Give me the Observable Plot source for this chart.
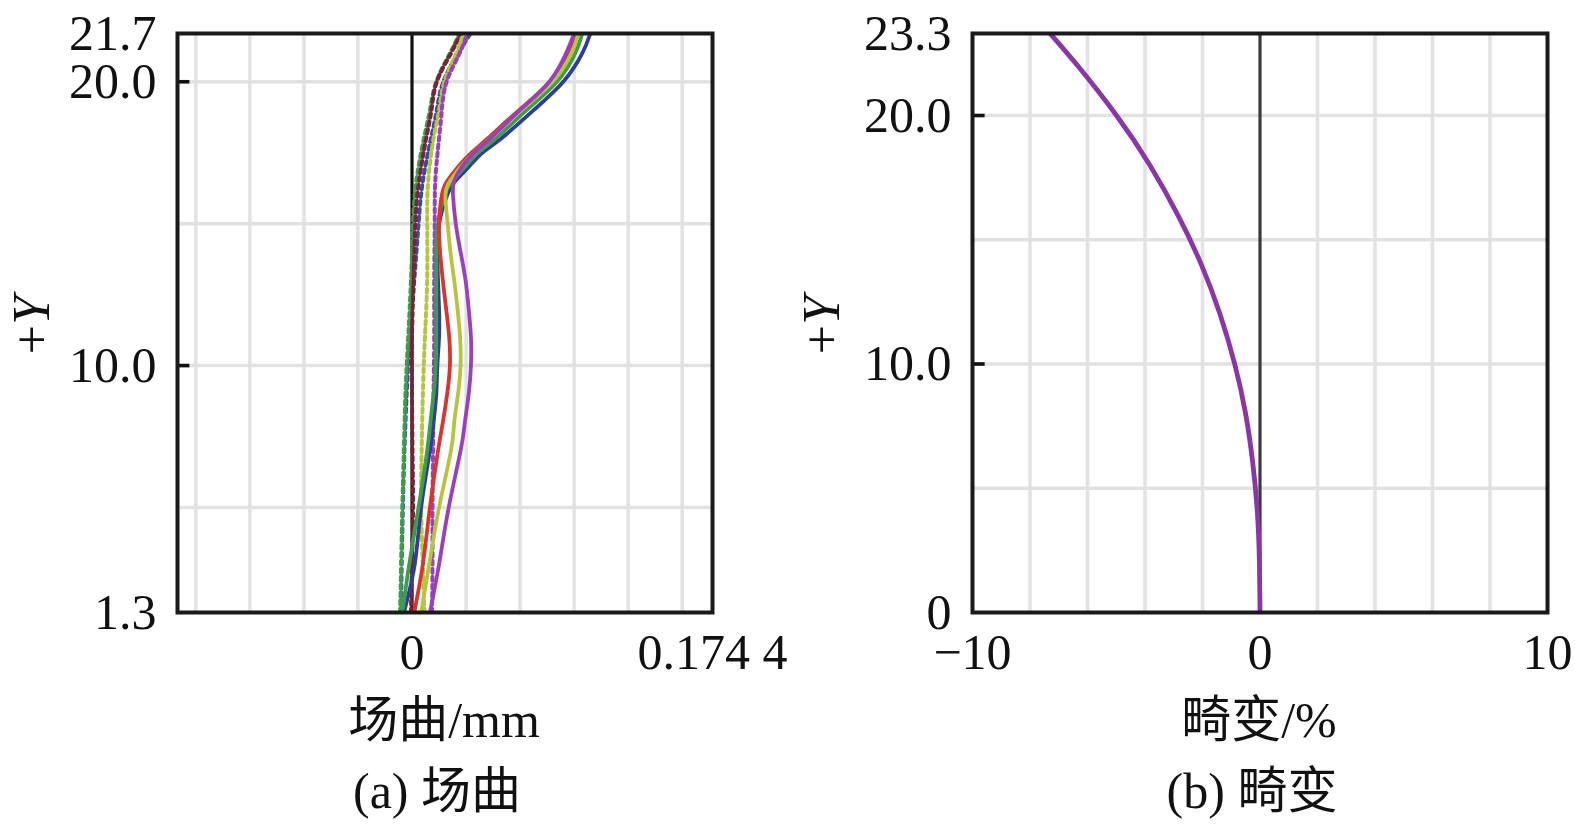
<!DOCTYPE html>
<html>
<head>
<meta charset="utf-8">
<script src="https://cdn.jsdelivr.net/npm/d3@7"></script>
<script src="https://cdn.jsdelivr.net/npm/@observablehq/plot@0.6"></script>
<style>
  body { margin: 0; background: #fff; }
  #root { position: relative; width: 1575px; height: 834px; overflow: hidden; background: #fff; }
  .panel { position: absolute; top: 0; }
  .ylab { position: absolute; transform: translate(-50%, -50%) rotate(-90deg); font: 52px "Liberation Serif", serif; white-space: nowrap; line-height: 1; color: #111; }
  .txt { position: absolute; transform: translate(-50%, -50%); font-size: 50px; font-family: "Liberation Serif", "Noto Sans CJK SC", serif; white-space: nowrap; line-height: 1; color: #111; }
</style>
</head>
<body>
<div id="root">
  <div id="pa" class="panel" style="left:0px"></div>
  <div id="pb" class="panel" style="left:790px"></div>
  <div class="ylab" style="left:32px; top:325px">+<i>Y</i></div>
  <div class="ylab" style="left:822px; top:325px">+<i>Y</i></div>
  <div class="txt" style="left:444px; top:720px">场曲/mm</div>
  <div class="txt" style="left:1259px; top:720px">畸变/%</div>
  <div class="txt" style="left:437px; top:791px">(a) 场曲</div>
  <div class="txt" style="left:1252px; top:791px">(b) 畸变</div>
</div>
<script>
// ---------- Panel (a): field curvature (mm) ----------
const fieldYT = [1.3, 3, 5, 7, 8, 9, 10, 11, 12, 13, 14, 15, 16, 16.5, 17, 17.5, 18, 19, 20, 21, 21.7];
const tanBlue   = [-0.0047, 0.0016, 0.0053, 0.0104, 0.0125, 0.0141, 0.0147, 0.0157, 0.0157, 0.0151, 0.0147, 0.0157, 0.0204, 0.0251, 0.0329, 0.0408, 0.0518, 0.0706, 0.0878, 0.0988, 0.1035];
const tanGreen  = [-0.0056, -0.0016, 0.0038, 0.0088, 0.0107, 0.0125, 0.0138, 0.0141, 0.0141, 0.0141, 0.0141, 0.0151, 0.0188, 0.0235, 0.0307, 0.0383, 0.0486, 0.0665, 0.0841, 0.0947, 0.0988];
const tanRed    = [0.0013, 0.0063, 0.0104, 0.0151, 0.0179, 0.0204, 0.0220, 0.0216, 0.0198, 0.0179, 0.0163, 0.0157, 0.0173, 0.0204, 0.0267, 0.0345, 0.0439, 0.0621, 0.0800, 0.0903, 0.0947];
const tanYellow = [0.0053, 0.0100, 0.0157, 0.0226, 0.0245, 0.0267, 0.0282, 0.0279, 0.0264, 0.0245, 0.0223, 0.0207, 0.0194, 0.0220, 0.0282, 0.0361, 0.0455, 0.0634, 0.0816, 0.0925, 0.0966];
const tanPurple = [0.0104, 0.0157, 0.0213, 0.0282, 0.0307, 0.0329, 0.0342, 0.0342, 0.0329, 0.0311, 0.0282, 0.0254, 0.0238, 0.0245, 0.0289, 0.0361, 0.0455, 0.0627, 0.0797, 0.0894, 0.0941];

const fieldYS = [1.3, 3, 5, 7, 9, 11, 13, 15, 16.5, 18, 19, 20, 21, 21.7];
const sagBlue   = [-0.0063, -0.0060, -0.0053, -0.0044, -0.0031, -0.0013, 0.0013, 0.0038, 0.0063, 0.0110, 0.0144, 0.0182, 0.0267, 0.0339];
const sagGreen  = [-0.0069, -0.0063, -0.0056, -0.0047, -0.0038, -0.0022, -0.0006, 0.0006, 0.0025, 0.0069, 0.0104, 0.0141, 0.0220, 0.0276];
const sagRed    = [-0.0006, 0.0000, 0.0006, 0.0003, 0.0000, 0.0000, 0.0009, 0.0019, 0.0041, 0.0082, 0.0113, 0.0144, 0.0226, 0.0282];
const sagYellow = [0.0072, 0.0063, 0.0053, 0.0056, 0.0063, 0.0075, 0.0088, 0.0088, 0.0094, 0.0125, 0.0157, 0.0188, 0.0257, 0.0298];
const sagPurple = [0.0116, 0.0119, 0.0119, 0.0122, 0.0125, 0.0129, 0.0129, 0.0132, 0.0135, 0.0157, 0.0173, 0.0201, 0.0276, 0.0320];

const xDomainA = [-0.1361, 0.1744];
const yDomainA = [1.3, 21.7];
const xTicksA = [0, 0.1744];
const xTickLabelsA = ["0", "0.174 4"];
const yTicksA = [1.3, 10, 20, 21.7];
const yTickLabelsA = ["1.3", "10.0", "20.0", "21.7"];
const gridXA = [-0.1255, -0.0941, -0.0627, -0.0314, 0.0314, 0.0627, 0.0941, 0.1255, 0.1568];
const gridYA = [5, 10, 15, 20];
const innerTicksA = [10, 20];

// ---------- Panel (b): distortion (%) ----------
const distY = [0, 2, 4, 6, 8, 10, 12, 14, 16, 18, 20, 22, 23.3];
const distX = [0, -0.02, -0.09, -0.25, -0.5, -0.88, -1.39, -2.04, -2.86, -3.83, -4.99, -6.34, -7.3];
const xDomainB = [-10, 10];
const yDomainB = [0, 23.3];
const xTicksB = [-10, 0, 10];
const xTickLabelsB = ["\u221210", "0", "10"];
const yTicksB = [0, 10, 20, 23.3];
const yTickLabelsB = ["0", "10.0", "20.0", "23.3"];
const gridXB = [-8, -6, -4, -2, 2, 4, 6, 8];
const gridYB = [5, 10, 15, 20];
const innerTicksB = [10, 20];

// ---------- build ----------
const FONT = "Liberation Serif";
const series = [
  {x: tanBlue,   y: fieldYT, color: "#2f3c9a", dash: null},
  {x: tanGreen,  y: fieldYT, color: "#3c9e48", dash: null},
  {x: tanRed,    y: fieldYT, color: "#d8362c", dash: null},
  {x: tanYellow, y: fieldYT, color: "#b5c63c", dash: null},
  {x: tanPurple, y: fieldYT, color: "#9a3fbe", dash: null},
  {x: sagBlue,   y: fieldYS, color: "#3a4aa8", dash: "4,4"},
  {x: sagGreen,  y: fieldYS, color: "#3c9e48", dash: "4,4"},
  {x: sagRed,    y: fieldYS, color: "#7a2238", dash: "4,4"},
  {x: sagYellow, y: fieldYS, color: "#b5c63c", dash: "4,4"},
  {x: sagPurple, y: fieldYS, color: "#9a3fbe", dash: "4,4"}
];
const drawOrder = [5, 6, 7, 8, 9, 0, 1, 2, 3, 4];

function lineMark(s) {
  const rows = s.x.map((v, i) => ({x: v, y: s.y[i]}));
  const opts = {x: "x", y: "y", stroke: s.color, strokeWidth: s.dash ? 4 : 3.8, curve: "natural"};
  if (s.dash) opts.strokeDasharray = s.dash;
  return Plot.line(rows, opts);
}

const commonStyle = {fontFamily: FONT, fontSize: "50px", color: "#111", background: "transparent", overflow: "visible"};
const GRID = "#e2e2e2";

const plotA = Plot.plot({
  width: 780, height: 690,
  marginLeft: 177, marginRight: 68, marginTop: 33, marginBottom: 78,
  x: {domain: xDomainA},
  y: {domain: yDomainA},
  clip: true,
  style: commonStyle,
  marks: [
    Plot.ruleX(gridXA, {stroke: GRID, strokeWidth: 3.5}),
    Plot.ruleY(gridYA, {stroke: GRID, strokeWidth: 3.5}),
    Plot.ruleX([0], {stroke: "#111", strokeWidth: 3.2}),
    ...drawOrder.map(i => lineMark(series[i])),
    Plot.ruleY(innerTicksA, {x1: xDomainA[0], x2: xDomainA[0] + 0.0072, stroke: "#111", strokeWidth: 3.6}),
    Plot.frame({stroke: "#1a1a1a", strokeWidth: 4}),
    Plot.axisX({ticks: xTicksA, tickFormat: d => xTickLabelsA[xTicksA.indexOf(d)], tickSize: 0, tickPadding: 21, fontSize: 50, fontFamily: FONT, fill: "#111", label: null}),
    Plot.axisY({ticks: yTicksA, tickFormat: d => yTickLabelsA[yTicksA.indexOf(d)], tickSize: 0, tickPadding: 21, fontSize: 50, fontFamily: FONT, fill: "#111", label: null})
  ]
});
document.getElementById("pa").appendChild(plotA);

const distRows = distX.map((v, i) => ({x: v, y: distY[i]}));
const plotB = Plot.plot({
  width: 785, height: 690,
  marginLeft: 182, marginRight: 28, marginTop: 33, marginBottom: 78,
  x: {domain: xDomainB},
  y: {domain: yDomainB},
  clip: true,
  style: commonStyle,
  marks: [
    Plot.ruleX(gridXB, {stroke: GRID, strokeWidth: 3.5}),
    Plot.ruleY(gridYB, {stroke: GRID, strokeWidth: 3.5}),
    Plot.ruleX([0], {stroke: "#3a3a3a", strokeWidth: 3.2}),
    Plot.line(distRows, {x: "x", y: "y", stroke: "#8a36a6", strokeWidth: 4.8, curve: "natural"}),
    Plot.ruleY(innerTicksB, {x1: xDomainB[0], x2: xDomainB[0] + 0.44, stroke: "#111", strokeWidth: 3.6}),
    Plot.frame({stroke: "#1a1a1a", strokeWidth: 4}),
    Plot.axisX({ticks: xTicksB, tickFormat: d => xTickLabelsB[xTicksB.indexOf(d)], tickSize: 0, tickPadding: 21, fontSize: 50, fontFamily: FONT, fill: "#111", label: null}),
    Plot.axisY({ticks: yTicksB, tickFormat: d => yTickLabelsB[yTicksB.indexOf(d)], tickSize: 0, tickPadding: 21, fontSize: 50, fontFamily: FONT, fill: "#111", label: null})
  ]
});
document.getElementById("pb").appendChild(plotB);
</script>
</body>
</html>
